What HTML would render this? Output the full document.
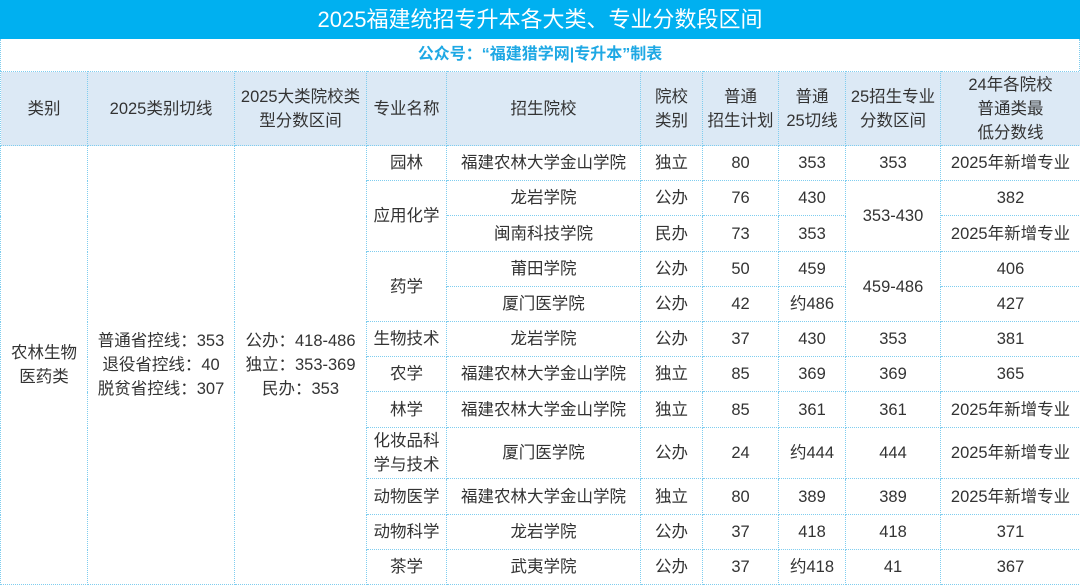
<!DOCTYPE html>
<html><head><meta charset="utf-8"><style>
*{margin:0;padding:0;box-sizing:border-box}
body{width:1080px;height:586px;background:#fff;font-family:"Liberation Sans","Noto Sans CJK SC",sans-serif;color:#333;overflow:hidden}
.title{height:39px;background:#00b0f0;color:#fff;font-size:22px;text-align:center;line-height:39px}
.sub{height:32px;color:#1ea8e4;font-size:16px;font-weight:bold;text-align:center;line-height:32px;border-left:1px dotted #7fcdef;border-right:1px dotted #7fcdef}
table{border-collapse:collapse;table-layout:fixed;width:1080px}
td{border:1px dotted #7fcdef;text-align:center;vertical-align:middle;font-size:16.5px;line-height:24px;padding:0;white-space:nowrap}
tr.h td{background:#dce9f5}
</style></head><body>
<div class="title">2025福建统招专升本各大类、专业分数段区间</div>
<div class="sub">公众号：“福建猎学网|专升本”制表</div>
<table>
<colgroup><col style="width:87px"><col style="width:147px"><col style="width:132px"><col style="width:80px"><col style="width:194px"><col style="width:62px"><col style="width:76px"><col style="width:67px"><col style="width:95px"><col style="width:140px"></colgroup>
<tr class="h" style="height:74px"><td>类别</td><td>2025类别切线</td><td>2025大类院校类<br>型分数区间</td><td>专业名称</td><td>招生院校</td><td>院校<br>类别</td><td>普通<br>招生计划</td><td>普通<br>25切线</td><td>25招生专业<br>分数区间</td><td>24年各院校<br>普通类最<br>低分数线</td></tr>
<tr style="height:35px"><td rowspan="12">农林生物<br>医药类</td><td rowspan="12">普通省控线：353<br>退役省控线：40<br>脱贫省控线：307</td><td rowspan="12">公办：418-486<br>独立：353-369<br>民办：353</td><td>园林</td><td>福建农林大学金山学院</td><td>独立</td><td>80</td><td>353</td><td>353</td><td>2025年新增专业</td></tr>
<tr style="height:35px"><td rowspan="2">应用化学</td><td>龙岩学院</td><td>公办</td><td>76</td><td>430</td><td rowspan="2">353-430</td><td>382</td></tr>
<tr style="height:36px"><td>闽南科技学院</td><td>民办</td><td>73</td><td>353</td><td>2025年新增专业</td></tr>
<tr style="height:35px"><td rowspan="2">药学</td><td>莆田学院</td><td>公办</td><td>50</td><td>459</td><td rowspan="2">459-486</td><td>406</td></tr>
<tr style="height:35px"><td>厦门医学院</td><td>公办</td><td>42</td><td>约486</td><td>427</td></tr>
<tr style="height:35px"><td>生物技术</td><td>龙岩学院</td><td>公办</td><td>37</td><td>430</td><td>353</td><td>381</td></tr>
<tr style="height:35px"><td>农学</td><td>福建农林大学金山学院</td><td>独立</td><td>85</td><td>369</td><td>369</td><td>365</td></tr>
<tr style="height:36px"><td>林学</td><td>福建农林大学金山学院</td><td>独立</td><td>85</td><td>361</td><td>361</td><td>2025年新增专业</td></tr>
<tr style="height:51px"><td>化妆品科<br>学与技术</td><td>厦门医学院</td><td>公办</td><td>24</td><td>约444</td><td>444</td><td>2025年新增专业</td></tr>
<tr style="height:36px"><td>动物医学</td><td>福建农林大学金山学院</td><td>独立</td><td>80</td><td>389</td><td>389</td><td>2025年新增专业</td></tr>
<tr style="height:35px"><td>动物科学</td><td>龙岩学院</td><td>公办</td><td>37</td><td>418</td><td>418</td><td>371</td></tr>
<tr style="height:35px"><td>茶学</td><td>武夷学院</td><td>公办</td><td>37</td><td>约418</td><td>41</td><td>367</td></tr>
</table>
</body></html>
